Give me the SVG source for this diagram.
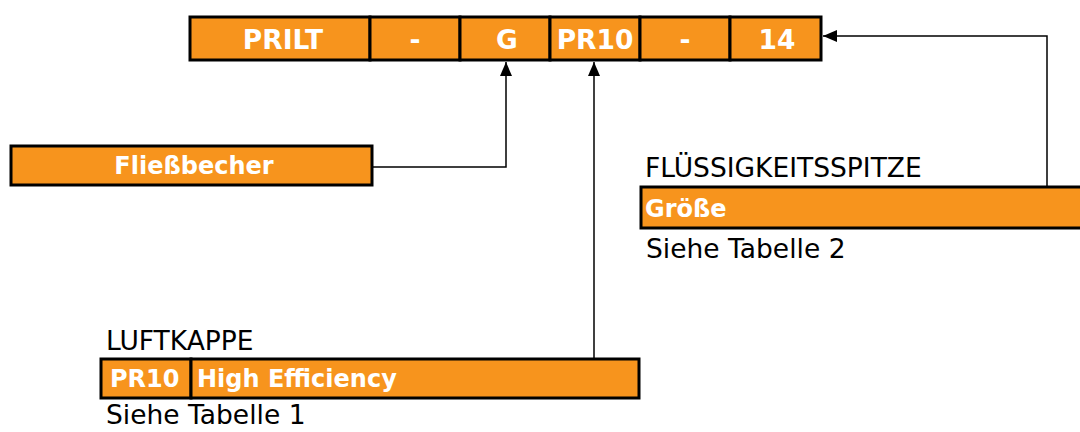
<svg xmlns="http://www.w3.org/2000/svg" width="1080" height="432" viewBox="0 0 1080 432">
<style>
.box{fill:#F7941D;stroke:#000;stroke-width:3}
.w{font-family:"DejaVu Sans",Verdana,sans-serif;font-weight:bold;fill:#fff;font-size:24px}
.t{font-size:26.5px}
.k{font-family:"DejaVu Sans",Verdana,sans-serif;fill:#000;font-size:26.5px}
.ln{fill:none;stroke:#000;stroke-width:1.5}
</style>
<defs>
<marker id="ah2" viewBox="0 0 14 12" refX="14" refY="6" markerWidth="14" markerHeight="12" markerUnits="userSpaceOnUse" orient="auto">
<path d="M0,0 L14,6 L0,12 Z" fill="#000"/>
</marker>
</defs>
<g id="code">
<rect class="box" x="190" y="17" width="180" height="43"/>
<rect class="box" x="370" y="17" width="90" height="43"/>
<rect class="box" x="460" y="17" width="90" height="43"/>
<rect class="box" x="550" y="17" width="90" height="43"/>
<rect class="box" x="640" y="17" width="90" height="43"/>
<rect class="box" x="730" y="17" width="91" height="43"/>
<text class="w t" x="283" y="49" text-anchor="middle">PRILT</text>
<text class="w t" x="415" y="49" text-anchor="middle">-</text>
<text class="w t" x="507" y="49" text-anchor="middle">G</text>
<text class="w t" x="595" y="49" text-anchor="middle">PR10</text>
<text class="w t" x="685" y="49" text-anchor="middle">-</text>
<text class="w t" x="777" y="49" text-anchor="middle">14</text>
</g>
<g id="fliessbecher">
<rect class="box" x="11" y="146" width="361" height="39"/>
<text class="w" x="194" y="174" text-anchor="middle">Fließbecher</text>
</g>
<g id="fluessigkeitsspitze">
<text class="k" x="645" y="177">FLÜSSIGKEITSSPITZE</text>
<rect class="box" x="641" y="187" width="445" height="41"/>
<text class="w" x="645" y="217">Größe</text>
<text class="k" x="646" y="258">Siehe Tabelle 2</text>
</g>
<g id="luftkappe">
<text class="k" x="106" y="350">LUFTKAPPE</text>
<rect class="box" x="101" y="359" width="90" height="39"/>
<rect class="box" x="191" y="359" width="448" height="39"/>
<text class="w" x="110" y="387">PR10</text>
<text class="w" x="197" y="387">High Efficiency</text>
<text class="k" x="106" y="424">Siehe Tabelle 1</text>
</g>
<g id="connectors">
<polyline class="ln" points="372,167 506,167 506,62" marker-end="url(#ah2)"/>
<polyline class="ln" points="594,358 594,62" marker-end="url(#ah2)"/>
<polyline class="ln" points="1047,186 1047,36 823,36" marker-end="url(#ah2)"/>
</g>
</svg>
